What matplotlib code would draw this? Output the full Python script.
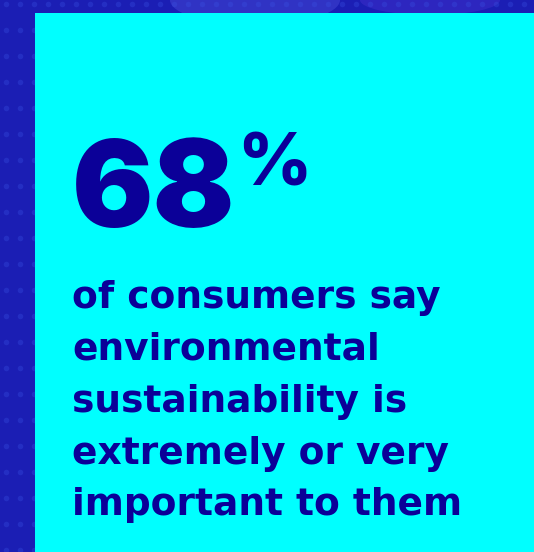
import matplotlib
matplotlib.use("Agg")
import matplotlib.pyplot as plt
from matplotlib.patches import Rectangle, Ellipse
import numpy as np

# ---- data ----
stat_value = 68
stat_unit = "%"
caption_lines = [
    "of consumers say",
    "environmental",
    "sustainability is",
    "extremely or very",
    "important to them",
]

# ---- style ----
W, H = 534, 552
bg_color = "#1b1eb4"
panel_color = "#00ffff"
text_color = "#0b0098"

fig = plt.figure(figsize=(W / 100, H / 100), dpi=100)
fig.patch.set_facecolor(bg_color)
ax = fig.add_axes([0, 0, 1, 1])
ax.set_xlim(0, W)
ax.set_ylim(H, 0)
ax.axis("off")
ax.set_facecolor(bg_color)

# decorative background: soft glow and dot pattern
ax.add_patch(Ellipse((255, 0), 170, 50, color="#3a3ccc", alpha=0.7,
                     zorder=1, linewidth=0))
ax.add_patch(Ellipse((430, 0), 140, 30, color="#3a2cc8", alpha=0.6,
                     zorder=1, linewidth=0))
xs = np.arange(6, W, 14)
ys = np.arange(4, H, 26)
gx, gy = np.meshgrid(xs, ys)
ax.scatter(gx.ravel(), gy.ravel(), s=16, color="#3a55e6", alpha=0.3,
           linewidths=0, zorder=1)

# cyan panel
ax.add_patch(Rectangle((35, 13), W - 35, H - 13, facecolor=panel_color,
                       edgecolor="none", zorder=2))

# big number
ax.text(72, 227, f"{stat_value}", family="Inter", fontweight=900,
        fontsize=87, color=text_color, va="baseline", ha="left", zorder=3)
ax.text(237, 186, stat_unit, family="Inter", fontweight=800,
        fontsize=52, color=text_color, va="baseline", ha="left", zorder=3)

# caption
baselines = [308, 360, 412, 463.5, 515]
for line, yb in zip(caption_lines, baselines):
    ax.text(72, yb, line, family="DejaVu Sans", fontweight="bold",
            fontsize=27, color=text_color, va="baseline", ha="left",
            zorder=3)

fig.savefig("out.png", dpi=100, facecolor=bg_color)
